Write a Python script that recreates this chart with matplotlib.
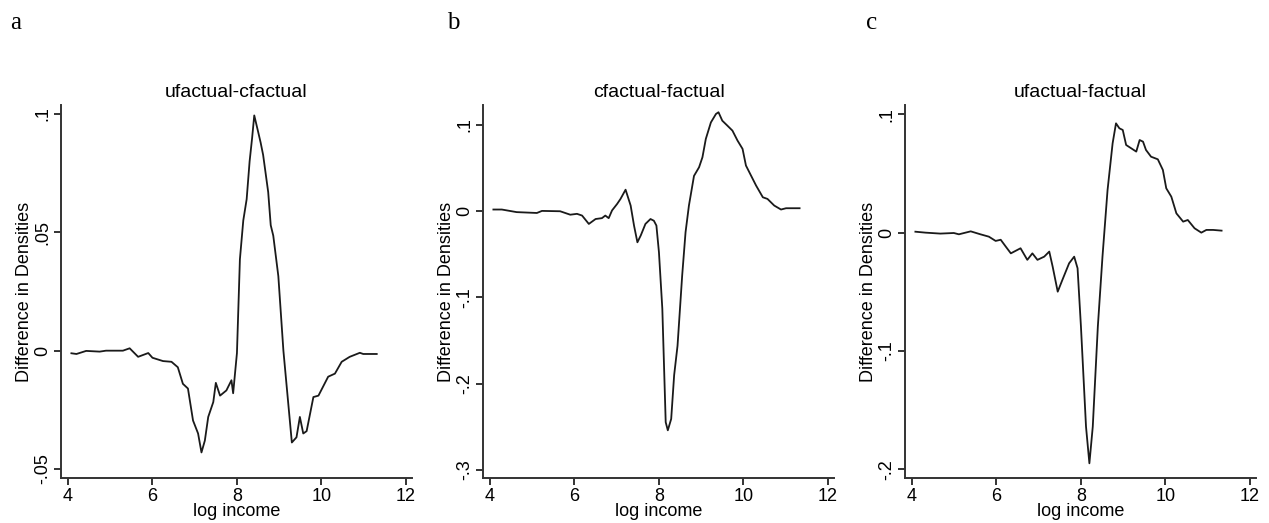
import numpy as np
import matplotlib.pyplot as plt

plt.rcParams["font.family"] = ["Liberation Sans", "DejaVu Sans"]
plt.rcParams["font.size"] = 13

# panel a: ufactual-cfactual
x_a = [4.08, 4.2, 4.43, 4.75, 4.9, 5.3, 5.46, 5.66, 5.9, 6.0, 6.25, 6.45, 6.6, 6.72,
       6.84, 6.96, 7.08, 7.16, 7.24, 7.32, 7.44, 7.5, 7.6, 7.75, 7.87, 7.91, 8.0, 8.07,
       8.15, 8.23, 8.3, 8.36, 8.41, 8.5, 8.56, 8.62, 8.74, 8.8, 8.86, 8.98, 9.1, 9.3,
       9.41, 9.49, 9.57, 9.65, 9.81, 9.93, 10.16, 10.32, 10.48, 10.67, 10.91, 10.99,
       11.31]
y_a = [-0.0011, -0.0014, -0.0001, -0.0004, 0.0, 0.0, 0.001, -0.0026, -0.001, -0.003,
       -0.0044, -0.0047, -0.007, -0.014, -0.016, -0.0295, -0.035, -0.043, -0.038, -0.028,
       -0.0217, -0.0136, -0.019, -0.0168, -0.0125, -0.018, -0.001, 0.0386, 0.055, 0.064,
       0.080, 0.090, 0.0994, 0.0926, 0.0880, 0.0827, 0.067, 0.0530, 0.0486, 0.0315, 0.0,
       -0.0388, -0.0366, -0.028, -0.035, -0.034, -0.0196, -0.019, -0.011, -0.0097,
       -0.0047, -0.0026, -0.0009, -0.0014, -0.0014]

# panel b: cfactual-factual
x_b = [4.08, 4.28, 4.63, 5.11, 5.23, 5.66, 5.9, 6.06, 6.18, 6.34, 6.5, 6.65, 6.73, 6.81,
       6.89, 7.01, 7.09, 7.21, 7.33, 7.41, 7.49, 7.57, 7.68, 7.8, 7.88, 7.94, 8.0, 8.08,
       8.16, 8.21, 8.29, 8.36, 8.44, 8.55, 8.63, 8.71, 8.83, 8.95, 9.03, 9.11, 9.23, 9.35,
       9.41, 9.5, 9.62, 9.74, 9.86, 9.98, 10.06, 10.18, 10.3, 10.46, 10.57, 10.73, 10.89,
       11.01, 11.33]
y_b = [0.002, 0.002, -0.001, -0.002, 0.0004, 0.0, -0.004, -0.003, -0.005, -0.0147,
       -0.009, -0.008, -0.005, -0.008, 0.001, 0.0085, 0.0143, 0.025, 0.0066, -0.0166,
       -0.036, -0.028, -0.0147, -0.009, -0.011, -0.0166, -0.0475, -0.113, -0.2446, -0.254,
       -0.2408, -0.19, -0.156, -0.0746, -0.0243, 0.0066, 0.041, 0.051, 0.0626, 0.0839,
       0.103, 0.1128, 0.1148, 0.105, 0.0993, 0.0935, 0.082, 0.0723, 0.053, 0.0414, 0.0298,
       0.0162, 0.0143, 0.0066, 0.002, 0.0035, 0.0035]

# panel c: ufactual-factual
x_c = [4.08, 4.32, 4.67, 4.99, 5.11, 5.39, 5.62, 5.82, 5.98, 6.1, 6.22, 6.34, 6.42, 6.57,
       6.73, 6.85, 6.97, 7.13, 7.25, 7.33, 7.45, 7.56, 7.72, 7.84, 7.92, 8.0, 8.12, 8.2,
       8.28, 8.4, 8.51, 8.63, 8.75, 8.83, 8.91, 8.99, 9.07, 9.19, 9.31, 9.39, 9.47, 9.54,
       9.66, 9.82, 9.94, 10.02, 10.14, 10.26, 10.42, 10.53, 10.69, 10.85, 10.97, 11.13,
       11.33]
y_c = [0.0008, 0.0, -0.0008, -0.0003, -0.0014, 0.0011, -0.0014, -0.0034, -0.007, -0.006,
       -0.0118, -0.0175, -0.016, -0.0132, -0.023, -0.0175, -0.023, -0.0203, -0.016, -0.0287,
       -0.0499, -0.04, -0.0259, -0.0203, -0.0301, -0.0794, -0.164, -0.195, -0.164, -0.0794,
       -0.0203, 0.036, 0.0755, 0.0924, 0.0882, 0.0868, 0.0741, 0.0713, 0.0685, 0.0783,
       0.0769, 0.0699, 0.0642, 0.062, 0.053, 0.0375, 0.0304, 0.0163, 0.0093, 0.0107,
       0.0037, 0.0, 0.0023, 0.0023, 0.0017]

titles = ["ufactual-cfactual", "cfactual-factual", "ufactual-factual"]
letters = ["a", "b", "c"]
yticks = [[-0.05, 0, 0.05, 0.1], [-0.3, -0.2, -0.1, 0, 0.1], [-0.2, -0.1, 0, 0.1]]
ytick_labels = [["-.05", "0", ".05", ".1"], ["-.3", "-.2", "-.1", "0", ".1"],
                ["-.2", "-.1", "0", ".1"]]
ylims = [(-0.0538, 0.1038), (-0.3093, 0.1232), (-0.2074, 0.1079)]
xs = [x_a, x_b, x_c]
ys = [y_a, y_b, y_c]

W, H = 1269, 523
fig = plt.figure(figsize=(W / 100, H / 100), dpi=100)

lefts = [61, 483, 905]
letter_x = [10, 447, 866]
for i in range(3):
    ax = fig.add_axes([lefts[i] / W, 1 - 478 / H, 351 / W, 373 / H])
    ax.plot(xs[i], ys[i], color="#1a1a1a", lw=1.3)
    ax.set_xlim(3.834, 12.145)
    ax.set_ylim(*ylims[i])
    ax.set_xticks([4, 6, 8, 10, 12])
    ax.set_yticks(yticks[i])
    ax.set_yticklabels(ytick_labels[i], rotation=90, va="center")
    ax.spines["right"].set_visible(False)
    ax.spines["top"].set_visible(False)
    for s in ["left", "bottom"]:
        ax.spines[s].set_color("#333333")
        ax.spines[s].set_linewidth(1.4)
    ax.tick_params(direction="out", length=5, width=1.4, color="#333333", pad=2)
    ax.set_title(titles[i], fontsize=14, pad=6)
    ax.set_xlabel("log income", fontsize=13, labelpad=-1)
    ax.set_ylabel("Difference in Densities", fontsize=13, labelpad=1)
    fig.text(letter_x[i] / W, 1 - 23 / H, letters[i], family="Liberation Serif",
             fontsize=18, va="center", ha="left")

fig.savefig("out.png", dpi=100)
